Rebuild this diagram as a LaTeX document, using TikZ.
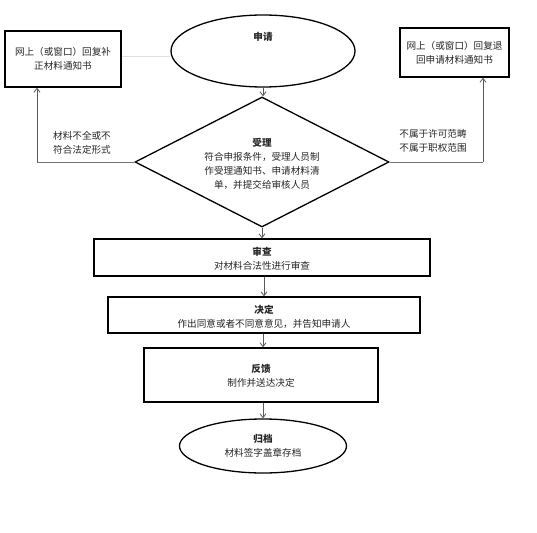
\documentclass[tikz,border=0pt]{standalone}
\usepackage{fontspec}
\newfontfamily\cjk{Noto Sans CJK SC}
\usetikzlibrary{shapes.geometric,arrows.meta}
\begin{document}
\begin{tikzpicture}[x=1pt,y=-1pt,
  every node/.style={font=\cjk\fontsize{9.6}{14.2}\selectfont, text=black!85, align=center},
  boxstyle/.style={draw=black, line width=1.3pt, rectangle, inner sep=0pt},
  ellstyle/.style={draw=black, line width=1.3pt, ellipse, inner sep=0pt},
  flow/.style={draw=black!65, line width=0.8pt, -{Straight Barb[length=4pt,width=6pt]}},
  branch/.style={draw=black!55, line width=0.8pt},
  faint/.style={draw=black!12, line width=0.8pt}]
\path[use as bounding box, fill=white] (0,0) rectangle (537,532);

% top ellipse
\node[ellstyle, minimum width=184pt, minimum height=72pt] (apply) at (263,51) {};
\node (applyt) at (263,37) {\textbf{申请}};

% side boxes
\node[boxstyle, minimum width=116pt, minimum height=56pt] (leftbox) at (63,59) {};
\node (leftboxt) at (63,59) {网上（或窗口）回复补\\正材料通知书};
\node[boxstyle, minimum width=109pt, minimum height=49pt] (rightbox) at (454.5,52.5) {};
\node (rightboxt) at (454.5,52.5) {网上（或窗口）回复退\\回申请材料通知书};

% diamond
\node[draw=black, line width=1.3pt, diamond, inner sep=0pt, minimum width=254pt, minimum height=130pt] (accept) at (262,162) {};
\node (acceptt) at (262,164) {\textbf{受理}\\符合申报条件，受理人员制\\作受理通知书、申请材料清\\单，并提交给审核人员};

% process boxes
\node[boxstyle, minimum width=336pt, minimum height=37pt] (check) at (262,257.5) {};
\node (checkt) at (262,259) {\textbf{审查}\\对材料合法性进行审查};
\node[boxstyle, minimum width=312pt, minimum height=36pt] (decide) at (264,315) {};
\node (decidet) at (264,316.5) {\textbf{决定}\\作出同意或者不同意意见，并告知申请人};
\node[boxstyle, minimum width=234pt, minimum height=54pt] (feedback) at (261,375) {};
\node (feedbackt) at (261,376) {\textbf{反馈}\\制作并送达决定};
\node[ellstyle, minimum width=167pt, minimum height=54pt] (archive) at (263,446) {};
\node (archivet) at (263,446) {\textbf{归档}\\材料签字盖章存档};

% branch labels
\node (leftlab) at (82,143) {材料不全或不\\符合法定形式};
\node (rightlab) at (433,141) {不属于许可范畴\\不属于职权范围};

% connectors
\coordinate (fl) at ([yshift=3pt]leftbox.east);
\draw[faint] (fl) -- (fl -| apply.west);
\draw[flow] (apply.south) -- (apply.south |- accept.north);
\coordinate (lcorner) at (37,162);
\coordinate (rcorner) at (483,162);
\draw[branch] (accept.west) -- (lcorner);
\draw[flow] (lcorner) -- (lcorner |- leftbox.south);
\draw[branch] (accept.east) -- (rcorner);
\draw[flow] (rcorner) -- (rcorner |- rightbox.south);
\draw[flow] (accept.south) -- (accept.south |- check.north);
\draw[flow] (check.south -| decide.north) -- (decide.north);
\draw[flow] (decide.south -| archive.north) -- (archive.north |- feedback.north);
\draw[flow] (feedback.south -| archive.north) -- (archive.north);
\end{tikzpicture}
\end{document}
